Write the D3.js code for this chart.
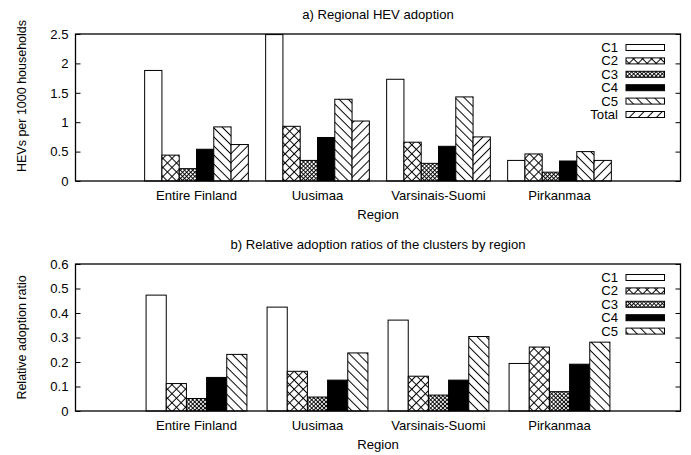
<!DOCTYPE html>
<html>
  <head>
    <title>Regional HEV adoption</title>
    <script src="https://cdn.jsdelivr.net/npm/d3@7"></script>
    <style type="text/css">
      body {
        margin: 0;
        background: #fff;
      }
      text {
        font-family: "Liberation Sans", Arial, Helvetica, sans-serif;
        font-size: 12.5px;
        fill: #000;
      }
      .border {
        fill: none;
        stroke: #000;
        stroke-width: 1.3px;
      }
      .tick line {
        stroke: #000;
        stroke-width: 1px;
      }
      .domain {
        display: none;
      }
      .bar {
        stroke: #000;
        stroke-width: 1px;
      }
    </style>
  </head>
<body>
  <div id="chart"></div>
  <script type="text/javascript">
    // data
    var regions = ["Entire Finland", "Uusimaa", "Varsinais-Suomi", "Pirkanmaa"];

    var adoptionSeries = ["C1", "C2", "C3", "C4", "C5", "Total"];
    var adoptionC1 = [1.88, 2.49, 1.73, 0.35];
    var adoptionC2 = [0.44, 0.93, 0.66, 0.46];
    var adoptionC3 = [0.21, 0.35, 0.30, 0.15];
    var adoptionC4 = [0.54, 0.74, 0.59, 0.34];
    var adoptionC5 = [0.92, 1.39, 1.43, 0.50];
    var adoptionTotal = [0.62, 1.02, 0.75, 0.35];
    var adoptionTicks = [0, 0.5, 1, 1.5, 2, 2.5];

    var ratioSeries = ["C1", "C2", "C3", "C4", "C5"];
    var ratioC1 = [0.473, 0.424, 0.371, 0.194];
    var ratioC2 = [0.112, 0.162, 0.142, 0.261];
    var ratioC3 = [0.051, 0.057, 0.065, 0.079];
    var ratioC4 = [0.137, 0.126, 0.126, 0.191];
    var ratioC5 = [0.231, 0.237, 0.304, 0.281];
    var ratioTicks = [0, 0.1, 0.2, 0.3, 0.4, 0.5, 0.6];

    var width = 691, height = 455;
    var SX = 1.05; // text in the figure is a bit wide

    var svg = d3.select("#chart").append("svg")
      .attr("width", width)
      .attr("height", height);

    // fill patterns, gnuplot style
    var defs = svg.append("defs");
    function hatch(id, angle, step, sw) {
      var p = defs.append("pattern")
        .attr("id", id)
        .attr("patternUnits", "userSpaceOnUse")
        .attr("width", step).attr("height", step)
        .attr("patternTransform", "rotate(" + angle + ")");
      p.append("rect").attr("width", step).attr("height", step).attr("fill", "#fff");
      p.append("line").attr("x1", step / 2).attr("x2", step / 2).attr("y1", 0).attr("y2", step)
        .attr("stroke", "#000").attr("stroke-width", sw);
    }
    function cross(id, step, sw) {
      var p = defs.append("pattern")
        .attr("id", id)
        .attr("patternUnits", "userSpaceOnUse")
        .attr("width", step).attr("height", step)
        .attr("patternTransform", "rotate(45)");
      p.append("rect").attr("width", step).attr("height", step).attr("fill", "#fff");
      p.append("line").attr("x1", step / 2).attr("x2", step / 2).attr("y1", 0).attr("y2", step)
        .attr("stroke", "#000").attr("stroke-width", sw);
      p.append("line").attr("y1", step / 2).attr("y2", step / 2).attr("x1", 0).attr("x2", step)
        .attr("stroke", "#000").attr("stroke-width", sw);
    }
    cross("pC2", 6.4, 1);
    cross("pC3", 2.9, 0.9);
    hatch("pC5", -45, 6.4, 1);
    hatch("pTotal", 45, 6.4, 1);

    var fills = {
      C1: "#fff",
      C2: "url(#pC2)",
      C3: "url(#pC3)",
      C4: "#000",
      C5: "url(#pC5)",
      Total: "url(#pTotal)"
    };

    function label(g, x, y, str, anchor, rotate) {
      return g.append("text")
        .attr("transform", "translate(" + x + "," + y + ") scale(" + SX + ",1)" + (rotate ? " rotate(-90)" : ""))
        .attr("text-anchor", anchor)
        .text(str);
    }

    function panel(opts) {
      var left = 75.5, right = 680.5;
      var g = svg.append("g");

      var x = d3.scaleLinear().domain([0, regions.length + 1]).range([left, right]);
      var y = d3.scaleLinear().domain(opts.yDomain).range([opts.bottom, opts.top]);

      var n = opts.series.length;
      var bw = 1 / (n + 1);

      // bars
      opts.series.forEach(function (name, j) {
        g.selectAll(null)
          .data(opts.values[j])
          .enter()
          .append("rect")
          .attr("class", "bar")
          .attr("x", function (d, i) { return x(i + 1 - n * bw / 2 + j * bw); })
          .attr("width", x(bw) - x(0))
          .attr("y", function (d) { return y(d); })
          .attr("height", function (d) { return y(0) - y(d); })
          .attr("fill", fills[name]);
      });

      // y axis, ticks inside, mirrored on the right
      var yl = g.append("g")
        .attr("transform", "translate(" + left + ",0)")
        .call(d3.axisLeft(y).tickValues(opts.ticks).tickSizeInner(-5).tickSizeOuter(0)
          .tickFormat(d3.format("")).tickPadding(7));
      yl.attr("font-size", null).attr("font-family", null);
      yl.selectAll("text")
        .attr("x", -7 / SX)
        .attr("transform", "scale(" + SX + ",1)")
        .attr("dy", "0.35em");

      g.append("g")
        .attr("transform", "translate(" + right + ",0)")
        .call(d3.axisRight(y).tickValues(opts.ticks).tickSizeInner(-5).tickSizeOuter(0).tickFormat(""));

      g.append("rect")
        .attr("class", "border")
        .attr("x", left).attr("y", opts.top)
        .attr("width", right - left).attr("height", opts.bottom - opts.top);

      // category labels
      regions.forEach(function (r, i) {
        label(g, x(i + 1), opts.bottom + 18.5, r, "middle");
      });

      label(g, (left + right) / 2, opts.bottom + 37.5, "Region", "middle");
      label(g, (left + right) / 2, opts.top - 15, opts.title, "middle");
      label(g, 25.5, opts.ylabelY, opts.ylabel, "middle", true);

      // legend
      opts.series.forEach(function (name, j) {
        var ly = opts.top + 13.5 + j * 13.4;
        label(g, 618, ly + 4.5, name, "end");
        g.append("rect")
          .attr("class", "bar")
          .attr("x", 626).attr("y", ly - 3)
          .attr("width", 38.5).attr("height", 6)
          .attr("fill", fills[name]);
      });
    }

    panel({
      top: 34,
      bottom: 181,
      yDomain: [0, 2.5],
      ticks: adoptionTicks,
      series: adoptionSeries,
      values: [adoptionC1, adoptionC2, adoptionC3, adoptionC4, adoptionC5, adoptionTotal],
      title: "a) Regional HEV adoption",
      ylabel: "HEVs per 1000 households",
      ylabelY: 96
    });

    panel({
      top: 264,
      bottom: 411,
      yDomain: [0, 0.6],
      ticks: ratioTicks,
      series: ratioSeries,
      values: [ratioC1, ratioC2, ratioC3, ratioC4, ratioC5],
      title: "b) Relative adoption ratios of the clusters by region",
      ylabel: "Relative adoption ratio",
      ylabelY: 337.5
    });
  </script>
</body>
</html>
